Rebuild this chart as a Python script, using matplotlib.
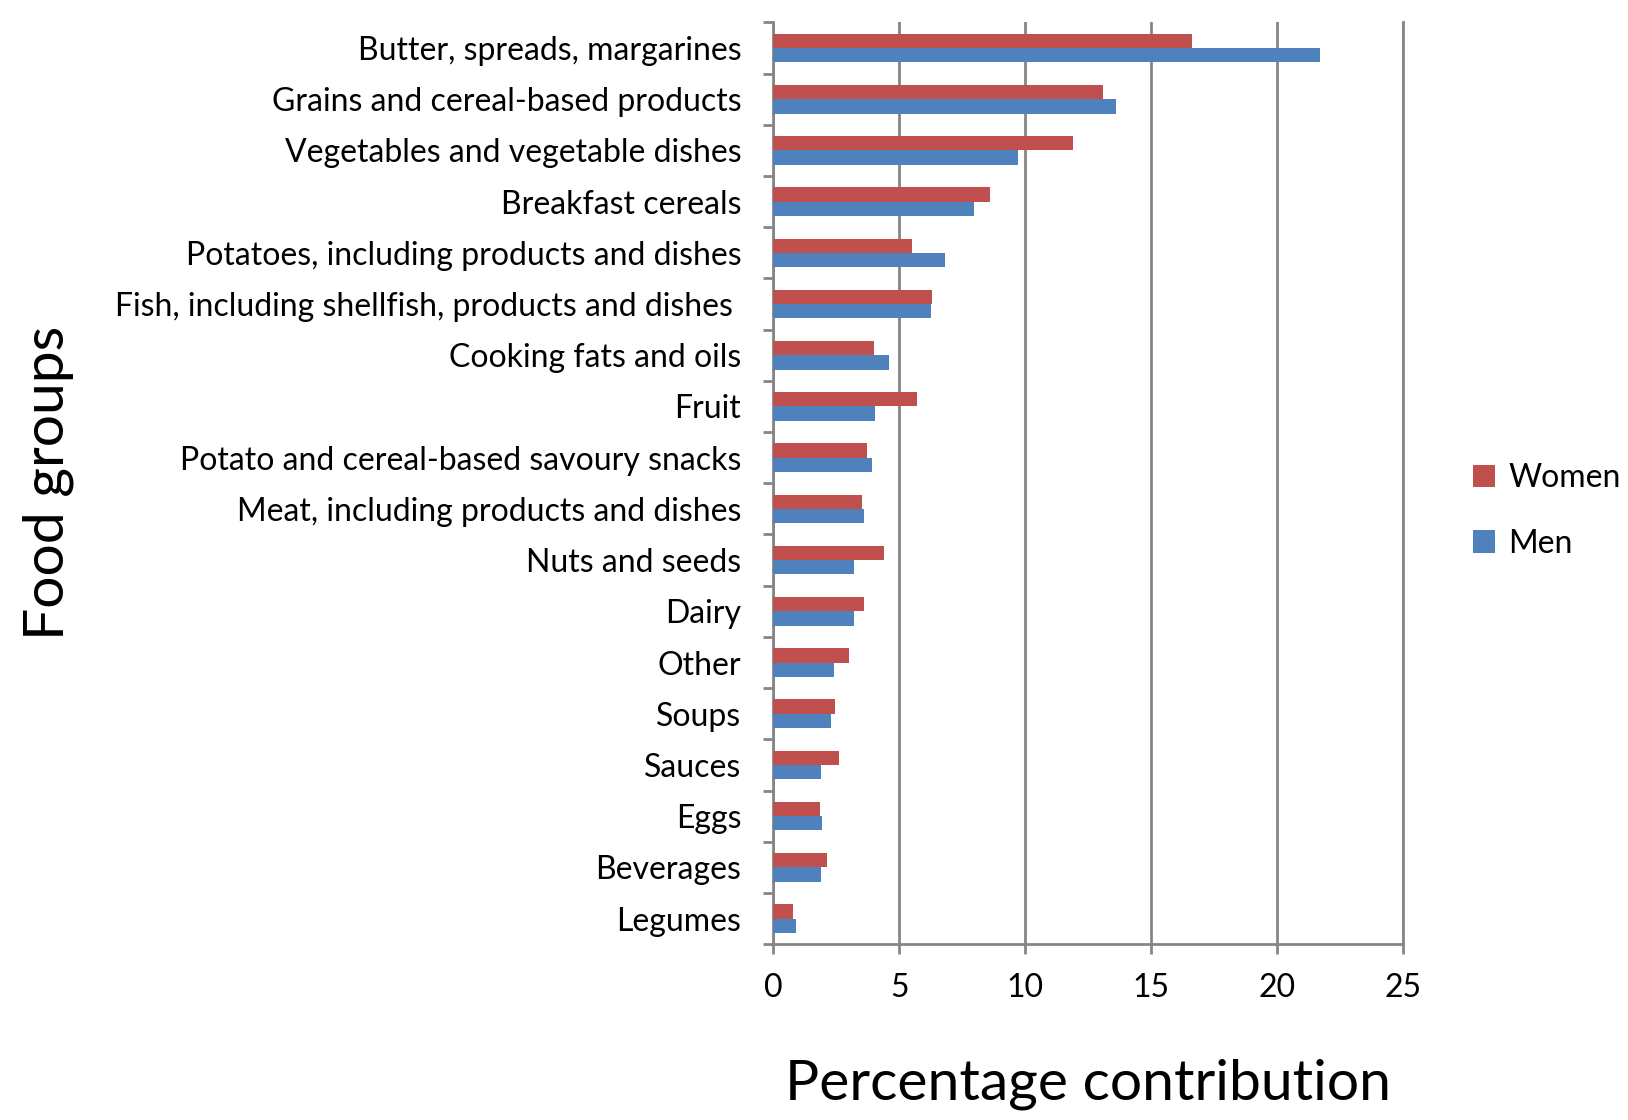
import numpy as np
import matplotlib
matplotlib.use("Agg")
import matplotlib.pyplot as plt
from matplotlib.ticker import FixedLocator

plt.rcParams['font.family'] = ['Lato', 'DejaVu Sans']

# food groups, top to bottom
groups = ['Butter, spreads, margarines', 'Grains and cereal-based products',
          'Vegetables and vegetable dishes', 'Breakfast cereals',
          'Potatoes, including products and dishes',
          'Fish, including shellfish, products and dishes ',
          'Cooking fats and oils', 'Fruit',
          'Potato and cereal-based savoury snacks',
          'Meat, including products and dishes', 'Nuts and seeds', 'Dairy',
          'Other', 'Soups', 'Sauces', 'Eggs', 'Beverages', 'Legumes']
women = [16.6, 13.1, 11.9, 8.6, 5.5, 6.3, 4.0, 5.7, 3.7,
         3.5, 4.4, 3.6, 3.0, 2.45, 2.6, 1.87, 2.15, 0.8]
men = [21.7, 13.6, 9.7, 7.95, 6.8, 6.27, 4.6, 4.05, 3.9,
       3.6, 3.2, 3.2, 2.4, 2.3, 1.9, 1.94, 1.9, 0.9]
xticks = [0, 5, 10, 15, 20, 25]

c_women = '#C0504D'
c_men = '#4F81BD'
grey = '#868686'

fig = plt.figure(figsize=(16.28, 11.2), dpi=100)
ax = fig.add_axes([0.475, 0.157, 0.387, 0.823])

y = np.arange(len(groups))
h = 0.28
ax.barh(y - h/2, women, h, color=c_women, label='Women', zorder=3)
ax.barh(y + h/2, men, h, color=c_men, label='Men', zorder=3)

ax.set_ylim(len(groups) - 0.5, -0.5)
ax.set_xlim(0, 25)

ax.set_yticks(y)
ax.set_yticklabels(groups, fontsize=23)
ax.yaxis.set_minor_locator(FixedLocator(np.arange(len(groups) + 1) - 0.5))
ax.tick_params(axis='y', which='major', length=0, pad=23)
ax.tick_params(axis='y', which='minor', length=7, width=2, color=grey)

ax.set_xticks(xticks)
ax.set_xticklabels([str(t) for t in xticks], fontsize=23)
ax.tick_params(axis='x', length=7, width=2, color=grey, pad=14)

ax.grid(axis='x', color=grey, linewidth=2, zorder=0)
ax.spines['top'].set_visible(False)
for s in ['left', 'bottom', 'right']:
    ax.spines[s].set_color(grey)
    ax.spines[s].set_linewidth(2)

ax.set_xlabel('Percentage contribution', fontsize=41, labelpad=40)
ax.set_ylabel('Food groups', fontsize=41)
ax.yaxis.set_label_coords(-1.11, 0.50)

leg = ax.legend(loc='center left', bbox_to_anchor=(1.065, 0.47), frameon=False,
                fontsize=23, handlelength=0.7, handleheight=0.7,
                handletextpad=0.4, labelspacing=1.1)

fig.savefig('out.png', dpi=100)
